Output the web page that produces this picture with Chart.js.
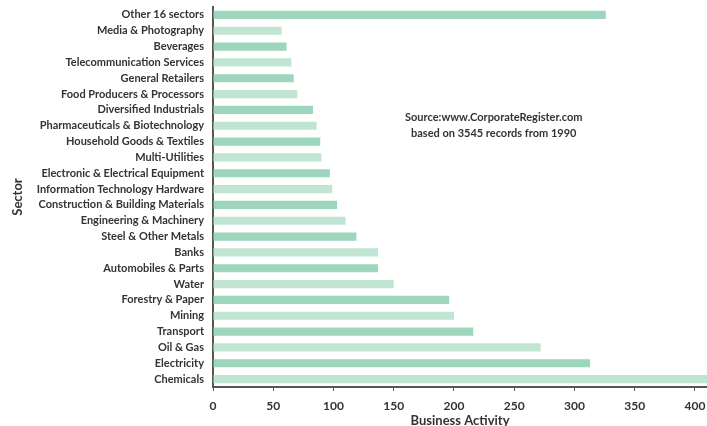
<!DOCTYPE html>
<html>
<head>
<meta charset="utf-8">
<script src="https://cdn.jsdelivr.net/npm/chart.js@4/dist/chart.umd.min.js"></script>
<style>
  html, body { margin: 0; padding: 0; background: #fff; overflow: hidden; }
  #wrap { width: 707px; height: 426px; overflow: hidden; }
</style>
</head>
<body>
<div id="wrap"><canvas id="sectorChart" width="707" height="429"></canvas></div>
<script>
var sectors = [
    'Other 16 sectors', 'Media & Photography', 'Beverages', 'Telecommunication Services',
    'General Retailers', 'Food Producers & Processors', 'Diversified Industrials',
    'Pharmaceuticals & Biotechnology', 'Household Goods & Textiles', 'Multi-Utilities',
    'Electronic & Electrical Equipment', 'Information Technology Hardware',
    'Construction & Building Materials', 'Engineering & Machinery', 'Steel & Other Metals',
    'Banks', 'Automobiles & Parts', 'Water', 'Forestry & Paper', 'Mining', 'Transport',
    'Oil & Gas', 'Electricity', 'Chemicals'
];
var activity = [
    326, 57, 61, 65, 67, 70, 83, 86, 89, 90, 97, 99,
    103, 110, 119, 137, 137, 150, 196, 200, 216, 272, 313, 420
];
var xTicks = [0, 50, 100, 150, 200, 250, 300, 350, 400];
var sourceLines = ['Source:www.CorporateRegister.com', 'based on 3545 records from 1990'];

var darkGreen = '#9dd5bd';
var lightGreen = '#c1e5d3';
var labelFont = '"Lato", "Open Sans", sans-serif';

// bars alternate shades, starting dark at the top
var barColors = sectors.map(function (s, i) {
    return i % 2 === 0 ? darkGreen : lightGreen;
});

// source note drawn in the empty part of the plot
var sourceNote = {
    id: 'sourceNote',
    afterDraw: function (chart) {
        var ctx = chart.ctx;
        var x = chart.scales.x.getPixelForValue(233);
        var y = chart.scales.y.getPixelForValue(6.5);
        ctx.save();
        ctx.font = 'bold 11px ' + labelFont;
        ctx.fillStyle = '#333';
        ctx.textAlign = 'center';
        ctx.textBaseline = 'middle';
        sourceLines.forEach(function (line, i) {
            ctx.fillText(line, x, y + i * 16);
        });
        ctx.restore();
    }
};

var sectorChart = new Chart(document.getElementById('sectorChart'), {
    type: 'bar',
    data: {
        labels: sectors,
        datasets: [{
            label: 'Business Activity',
            data: activity,
            backgroundColor: barColors,
            borderWidth: 0,
            categoryPercentage: 1,
            barPercentage: 0.52
        }]
    },
    options: {
        indexAxis: 'y',
        responsive: false,
        animation: false,
        layout: { padding: { top: 7, right: 0, left: 0, bottom: 0 } },
        plugins: {
            legend: { display: false },
            tooltip: { enabled: false }
        },
        scales: {
            x: {
                min: 0,
                max: 410,
                afterBuildTicks: function (scale) {
                    scale.ticks = xTicks.map(function (v) { return { value: v }; });
                },
                afterFit: function (scale) {
                    scale.height = 42;
                    scale.paddingRight = 0;
                    scale.paddingLeft = 0;
                },
                border: { color: '#555', width: 2 },
                grid: { drawOnChartArea: false, drawTicks: true, tickLength: 4, color: '#555' },
                ticks: {
                    color: '#333',
                    padding: 8,
                    maxRotation: 0,
                    font: { family: labelFont, size: 12, weight: 'bold' }
                },
                title: {
                    display: true,
                    text: 'Business Activity',
                    color: '#333',
                    padding: 0,
                    font: { family: labelFont, size: 13, weight: 'bold' }
                }
            },
            y: {
                afterFit: function (scale) {
                    scale.width = 213;
                    scale.paddingTop = 0;
                    scale.paddingBottom = 0;
                },
                border: { color: '#555', width: 2 },
                grid: { display: false, drawTicks: false },
                ticks: {
                    color: '#333',
                    padding: 9,
                    autoSkip: false,
                    font: { family: labelFont, size: 11, weight: 'bold' }
                },
                title: {
                    display: true,
                    text: 'Sector',
                    color: '#333',
                    padding: { top: 10, bottom: 0 },
                    font: { family: labelFont, size: 13, weight: 'bold' }
                }
            }
        }
    },
    plugins: [sourceNote]
});
</script>
</body>
</html>
